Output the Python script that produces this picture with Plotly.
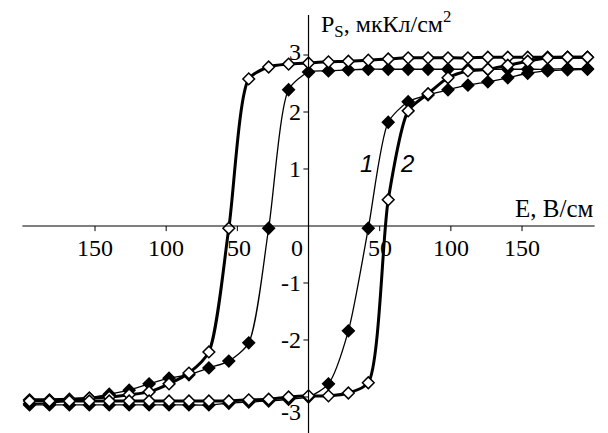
import plotly.graph_objects as go

# E values (V/cm), step 14
E_down = [196, 182, 168, 154, 140, 126, 112, 98, 84, 70, 56, 42, 28, 14, 0,
          -14, -28, -42, -56, -70, -84, -98, -112, -126, -140, -154, -168, -182, -196]
E_up = E_down[::-1]

# Loop 1 (thin line, filled diamonds)
p1_down = [2.76, 2.76, 2.75, 2.75, 2.75, 2.75, 2.75, 2.75, 2.75, 2.75, 2.75, 2.75, 2.74, 2.72, 2.70,
           2.39, -0.04, -2.05, -2.37, -2.49, -2.61, -2.67, -2.77, -2.88, -2.95, -3.02, -3.07, -3.11, -3.12]
p1_up = [-3.14, -3.14, -3.14, -3.14, -3.14, -3.14, -3.14, -3.14, -3.14, -3.14, -3.11, -3.09, -3.07, -3.04, -3.00,
         -2.77, -1.84, -0.04, 1.82, 2.18, 2.30, 2.39, 2.47, 2.53, 2.60, 2.68, 2.72, 2.74, 2.75]

# Loop 2 (thick line, open diamonds)
p2_down = [2.96, 2.96, 2.96, 2.96, 2.96, 2.96, 2.95, 2.95, 2.95, 2.95, 2.93, 2.91, 2.89, 2.88, 2.86,
           2.84, 2.79, 2.58, -0.04, -2.21, -2.58, -2.77, -2.91, -2.96, -3.00, -3.02, -3.04, -3.05, -3.05]
p2_up = [-3.07, -3.07, -3.07, -3.07, -3.07, -3.07, -3.07, -3.07, -3.07, -3.07, -3.07, -3.05, -3.04, -3.00, -2.98,
         -2.98, -2.93, -2.75, 0.46, 2.02, 2.32, 2.60, 2.72, 2.75, 2.82, 2.89, 2.95, 2.96, 2.96]

x_tick_vals = [-150, -100, -50, 0, 50, 100, 150]
x_tick_text = ["150", "100", "50", "0", "50", "100", "150"]
y_tick_vals = [3, 2, 1, -1, -2, -3]
y_tick_text = ["3", "2", "1", "-1", "-2", "-3"]

SERIF = "Liberation Serif"
SANS = "Liberation Sans"

fig = go.Figure()

def add_branch(x, y, width, filled):
    fig.add_trace(go.Scatter(
        x=x, y=y, mode="lines+markers",
        line=dict(color="black", width=width, shape="spline", smoothing=0.7),
        marker=dict(symbol="diamond", size=9,
                    color="black" if filled else "white",
                    line=dict(color="black", width=1.5)),
        showlegend=False, hoverinfo="skip"))

add_branch(E_down, p1_down, 1.3, True)
add_branch(E_up, p1_up, 1.3, True)
add_branch(E_down, p2_down, 3, False)
add_branch(E_up, p2_up, 3, False)

shapes = []
# axes lines
shapes.append(dict(type="line", xref="x", yref="y", x0=-201, x1=201, y0=0, y1=0,
                   line=dict(color="black", width=1.2)))
shapes.append(dict(type="line", xref="x", yref="y", x0=0, x1=0, y0=-3.7, y1=3.7,
                   line=dict(color="black", width=1.2)))
for v in x_tick_vals:
    if v == 0:
        continue
    shapes.append(dict(type="line", xref="x", yref="y", x0=v, x1=v, y0=0, y1=-0.09,
                       line=dict(color="black", width=1)))
for v in y_tick_vals:
    shapes.append(dict(type="line", xref="x", yref="y", x0=0, x1=-3.6, y0=v, y1=v,
                       line=dict(color="black", width=1)))

annotations = []
for v, t in zip(x_tick_vals, x_tick_text):
    annotations.append(dict(x=v, y=0, xref="x", yref="y", text=t, showarrow=False,
                            xanchor="center", yanchor="middle",
                            xshift=-12 if v == 0 else (2 if v == -50 else 0), yshift=-22,
                            font=dict(family=SERIF, size=24, color="black")))
for v, t in zip(y_tick_vals, y_tick_text):
    ys = 3 if v == 3 else (-15 if v == -3 else 0)
    annotations.append(dict(x=0, y=v, xref="x", yref="y", text=t, showarrow=False,
                            xanchor="right", yanchor="middle", xshift=-6, yshift=ys,
                            font=dict(family=SERIF, size=24, color="black")))

annotations.append(dict(x=0, y=3.55, xref="x", yref="y",
                        text="P<sub>S</sub>, мкКл/см<sup>2</sup>", showarrow=False,
                        xanchor="left", yanchor="middle", xshift=10,
                        font=dict(family=SERIF, size=24, color="black")))
annotations.append(dict(x=201, y=0, xref="x", yref="y", text="E, В/см", showarrow=False,
                        xanchor="right", yanchor="bottom", yshift=2,
                        font=dict(family=SERIF, size=25, color="black")))
annotations.append(dict(x=41, y=1.1, xref="x", yref="y", text="<i>1</i>", showarrow=False,
                        xanchor="center", yanchor="middle",
                        font=dict(family=SANS, size=24, color="black")))
annotations.append(dict(x=69, y=1.1, xref="x", yref="y", text="<i>2</i>", showarrow=False,
                        xanchor="center", yanchor="middle",
                        font=dict(family=SANS, size=24, color="black")))

fig.update_layout(
    width=608, height=433,
    margin=dict(l=0, r=0, t=0, b=0),
    paper_bgcolor="white", plot_bgcolor="white",
    xaxis=dict(range=[-216.75, 210.4], visible=False, fixedrange=True),
    yaxis=dict(range=[-3.632, 3.965], visible=False, fixedrange=True),
    shapes=shapes, annotations=annotations,
)

fig.write_html("out.html")
